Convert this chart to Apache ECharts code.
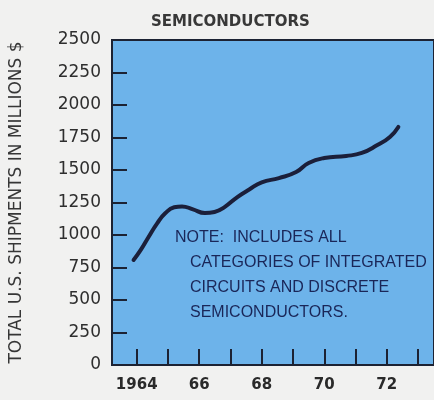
<!DOCTYPE html>
<html>
<head>
<meta charset="utf-8">
<script src="https://cdn.jsdelivr.net/npm/echarts@6/dist/echarts.min.js"></script>
<style>
  html, body { margin: 0; padding: 0; background: #f1f1f0; }
  #chart { width: 434px; height: 400px; }
</style>
</head>
<body>
<div id="chart"></div>
<script>
// shipments curve (year, $ millions)
const years = [1963.9, 1964.13, 1964.38, 1964.66, 1964.92, 1965.2, 1965.45, 1965.8, 1966.18, 1966.49, 1966.81, 1967.22, 1967.6, 1968.0, 1968.55, 1969.1, 1969.5, 1970.0, 1970.7, 1971.2, 1971.7, 1972.1, 1972.37];
const shipments = [808, 885, 985, 1092, 1169, 1213, 1220, 1197, 1169, 1177, 1215, 1292, 1350, 1405, 1438, 1485, 1554, 1592, 1608, 1631, 1692, 1754, 1831];
const yearTicks = [1964, 1965, 1966, 1967, 1968, 1969, 1970, 1971, 1972, 1973];
const yearLabels = [1964, 1966, 1968, 1970, 1972];
const valueTicks = [250, 500, 750, 1000, 1250, 1500, 1750, 2000, 2250];
const noteLines = ['NOTE:  INCLUDES ALL', 'CATEGORIES OF INTEGRATED', 'CIRCUITS AND DISCRETE', 'SEMICONDUCTORS.'];

const chart = echarts.init(document.getElementById('chart'));

const option = {
  backgroundColor: '#f1f1f0',
  title: {
    text: 'SEMICONDUCTORS',
    left: 146,
    top: 10,
    textStyle: { color: '#383838', fontFamily: 'DejaVu Sans', fontSize: 15, fontWeight: 'bold' }
  },
  grid: {
    show: true,
    left: 111,
    top: 40,
    right: -3,
    bottom: 35,
    backgroundColor: '#6db3ea',
    borderColor: '#1c2233',
    borderWidth: 2
  },
  xAxis: {
    type: 'value',
    min: 1963.21,
    max: 1973.51,
    splitLine: { show: false },
    axisLine: { show: true, lineStyle: { color: '#1c2233', width: 2 } },
    axisTick: {
      show: true,
      inside: true,
      length: 16,
      customValues: yearTicks,
      lineStyle: { color: '#1c2233', width: 2 }
    },
    axisLabel: {
      customValues: yearLabels,
      margin: 13,
      color: '#2a2a2a',
      fontFamily: 'DejaVu Sans',
      fontSize: 15,
      fontWeight: 'bold',
      formatter: v => (v === 1964 ? '1964' : String(v).slice(2))
    }
  },
  yAxis: {
    type: 'value',
    min: 0,
    max: 2500,
    interval: 250,
    name: 'TOTAL U.S. SHIPMENTS IN MILLIONS $',
    nameLocation: 'middle',
    nameRotate: 90,
    nameGap: 87,
    nameTextStyle: { color: '#363636', fontFamily: 'DejaVu Sans', fontSize: 17 },
    splitLine: { show: false },
    axisLine: { show: true, lineStyle: { color: '#1c2233', width: 2 } },
    axisTick: {
      show: true,
      inside: true,
      length: 15,
      customValues: valueTicks,
      lineStyle: { color: '#1c2233', width: 2 }
    },
    axisLabel: {
      margin: 11,
      color: '#2e2e2e',
      fontFamily: 'DejaVu Sans',
      fontSize: 17,
      formatter: v => String(v)
    }
  },
  series: [
    {
      type: 'line',
      data: years.map((y, i) => [y, shipments[i]]),
      smooth: true,
      symbol: 'none',
      lineStyle: { color: '#1b1f3a', width: 4, cap: 'round' }
    }
  ],
  graphic: noteLines.map((t, i) => ({
    type: 'text',
    left: i === 0 ? 175 : 190,
    top: 230 + i * 25,
    style: {
      text: t,
      fill: '#1a2658',
      font: '16px "Liberation Sans"'
    }
  }))
};

chart.setOption(option);
</script>
</body>
</html>
